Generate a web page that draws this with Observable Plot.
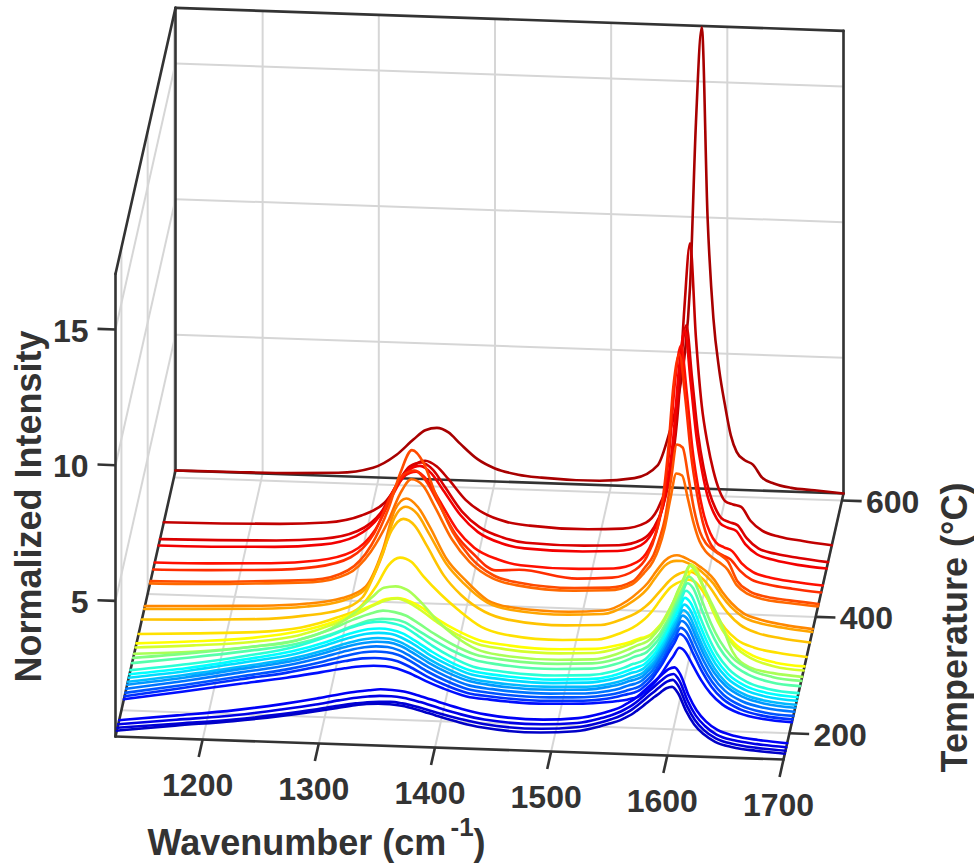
<!DOCTYPE html>
<html><head><meta charset="utf-8">
<style>html,body{margin:0;background:#fff}svg{display:block}</style>
<script src="https://cdn.jsdelivr.net/npm/d3@7"></script>
<script src="https://cdn.jsdelivr.net/npm/@observablehq/plot@0.6"></script>
</head><body><div id="chart"></div>
<script>
const wavenumbers=[1125,1175,1225,1265,1295,1315,1330,1340,1350,1360,1370,1385,1400,1420,1440,1490,1520,1540,1550,1558,1563,1568,1573,1578,1583,1588,1593,1598,1603,1608,1615,1622,1630,1640,1655,1675,1700];
const wnTicks=[1200,1300,1400,1500,1600,1700];
const tempTicks=[200,400,600];
const zTicks=[5,10,15];
const wnLimits=[1125,1700], tempLimits=[155,612], zTop=17.05;
const temperatures=[612,523,494,483,454,442,422,418,379,374,356,331,315,308,297,290,281,269,262,256,249,244,237,230,224,219,183,176,170,165];
const t612=[0,.02,.05,.12,.35,.85,1.45,1.8,1.9,1.75,1.35,.8,.48,.28,.2,.16,.3,.8,2,3.4,4.8,7.5,13.5,17,10,6.3,4.4,3.1,2,1.4,1.1,.95,.48,.28,.14,.08,0];
const t523=[0,.03,.09,.2,.5,1,1.9,2.4,2.6,2.4,1.95,1.2,.75,.45,.34,.28,.35,.6,1.1,2,3,5,8.5,10.95,7.5,5,3.6,2.6,1.9,1.5,1.38,1.3,.8,.45,.25,.12,0];
const t494=[0,.04,.1,.22,.55,1.25,2.4,3,3.16,2.9,2.3,1.4,.85,.5,.33,.3,.36,.6,1.05,1.85,2.8,4.4,7,8.55,6.6,4.6,3.3,2.4,1.85,1.5,1.35,1.25,.78,.42,.24,.12,0];
const t483=[0,.03,.1,.24,.6,1.35,2.5,3.1,3.27,3,2.4,1.5,.9,.52,.36,.32,.38,.62,1.1,1.9,2.9,4.6,7.2,8.6,6.7,4.7,3.4,2.45,1.9,1.55,1.38,1.28,.8,.44,.25,.1,0];
const t454=[0,.04,.12,.28,.65,1.5,2.8,3.5,3.68,3.35,2.65,1.6,.95,.55,.36,.3,.36,.62,1.1,1.95,3,4.8,7.4,8.66,6.9,4.8,3.4,2.4,1.8,1.45,1.28,1.15,.72,.4,.22,.1,0];
const t442=[0,.05,.13,.3,.7,1.6,3.05,3.8,3.98,3.6,2.85,1.7,1,.4,.45,.2,.28,.6,1.1,2,3.05,4.9,7.5,8.6,7,4.9,3.5,2.45,1.8,1.45,1.25,1.1,.7,.38,.22,.1,0];
const t422=[0,.05,.15,.25,.65,1.6,3,4.3,5.16,4.7,3.6,2.2,1.3,.65,.42,.28,.34,.6,1.1,1.6,2.2,3,4.4,5.7,5.6,4.5,3.3,2.5,2.1,1.9,1.7,1.45,.75,.4,.2,.1,0];
const t418=[0,.05,.15,.25,.6,1.45,2.6,3.6,4.17,3.95,3.2,2,1.2,.62,.4,.27,.33,.58,1,1.45,1.95,2.7,3.8,4.72,4.65,3.8,2.9,2.25,1.9,1.7,1.5,1.25,.68,.36,.18,.09,0];
const t379=[0,.08,.16,.3,.55,1,2.4,3.85,4.3,4,3.3,2.1,1.4,.65,.42,.33,.42,.8,1.15,1.5,1.8,2.1,2.35,2.5,2.55,2.5,2.4,2.3,2.15,2,1.7,1.25,.85,.5,.28,.12,0];
const t374=[0,.08,.16,.3,.55,1,2.3,3.65,4.1,3.85,3.15,2.05,1.35,.68,.44,.33,.4,.75,1.05,1.38,1.68,1.98,2.25,2.4,2.45,2.45,2.38,2.28,2.14,1.96,1.66,1.22,.82,.48,.26,.12,0];
const t356=[0,.07,.16,.35,.6,1.1,2.5,3.6,4.04,3.8,3.1,2,1.3,.72,.46,.32,.38,.65,.85,1.1,1.3,1.55,1.8,2.05,2.25,2.38,2.45,2.45,2.35,2.2,1.85,1.4,.95,.56,.28,.12,0];
const t331=[0,.1,.22,.45,.85,1.25,2.1,2.85,3.15,3,2.5,1.85,1.3,.7,.45,.32,.38,.65,.85,1.1,1.3,1.55,1.85,2.15,2.4,2.55,2.65,2.7,2.65,2.45,2,1.45,.95,.55,.28,.12,0];
const t315=[0,.15,.35,.65,1.05,1.45,1.75,1.95,2,1.9,1.7,1.25,.9,.55,.42,.32,.38,.55,.68,.82,.88,.99,1.19,1.43,1.77,2.14,2.58,2.99,3.4,3.23,2.55,1.87,1.26,.75,.34,.1,0];
const t308=[0,.15,.35,.65,1.1,1.5,1.85,2.05,2.14,2,1.75,1.3,.92,.55,.42,.32,.38,.58,.74,.9,.98,1.09,1.32,1.58,1.96,2.37,2.86,3.31,3.76,3.57,2.82,2.07,1.39,.83,.38,.11,0];
const t297=[0,.15,.4,.7,1.2,1.8,2.4,2.75,2.82,2.7,2.35,1.65,1.1,.6,.42,.32,.38,.6,.78,.95,1.03,1.15,1.39,1.66,2.06,2.49,3.01,3.48,3.96,3.76,3.2,2.6,1.9,.85,.28,.1,0];
const t290=[0,.25,.55,.85,1.3,1.7,1.95,2.06,2.02,1.9,1.65,1.25,.9,.55,.42,.32,.38,.56,.72,.89,.96,1.07,1.3,1.55,1.92,2.33,2.81,3.26,3.7,3.52,2.78,2.04,1.37,.81,.37,.11,0];
const t281=[0,.28,.6,.9,1.3,1.65,1.88,1.95,1.95,1.85,1.6,1.22,.88,.55,.42,.32,.38,.56,.72,.88,.95,1.06,1.28,1.53,1.9,2.3,2.77,3.21,3.65,3.47,2.74,2.01,1.35,.8,.37,.11,0];
const t269=[0,.3,.68,1.05,1.5,1.85,2.05,2.1,2.06,1.95,1.7,1.28,.92,.56,.44,.34,.4,.56,.72,.87,.94,1.05,1.27,1.52,1.89,2.29,2.76,3.19,3.63,3.45,2.72,2,1.34,.8,.36,.11,0];
const t262=[0,.3,.7,1.05,1.45,1.78,1.96,2,1.97,1.85,1.62,1.22,.88,.55,.44,.34,.4,.55,.7,.84,.92,1.02,1.23,1.48,1.83,2.22,2.68,3.1,3.52,3.34,2.64,1.94,1.3,.77,.35,.11,0];
const t256=[0,.32,.72,1.05,1.45,1.75,1.92,1.97,1.95,1.82,1.6,1.2,.88,.55,.44,.34,.4,.55,.68,.82,.88,.99,1.19,1.43,1.77,2.14,2.58,2.99,3.4,3.23,2.55,1.87,1.26,.75,.34,.1,0];
const t249=[0,.33,.72,1.05,1.42,1.72,1.88,1.93,1.92,1.8,1.58,1.2,.88,.56,.44,.35,.4,.54,.66,.8,.87,.97,1.17,1.4,1.74,2.1,2.54,2.94,3.34,3.17,2.5,1.84,1.24,.73,.33,.1,0];
const t244=[0,.34,.74,1.06,1.42,1.7,1.85,1.9,1.89,1.78,1.56,1.18,.87,.56,.44,.35,.4,.54,.65,.78,.85,.94,1.14,1.37,1.69,2.05,2.47,2.86,3.25,3.09,2.44,1.79,1.2,.72,.33,.1,0];
const t237=[0,.36,.76,1.08,1.42,1.68,1.83,1.88,1.87,1.76,1.55,1.18,.87,.56,.45,.36,.41,.53,.64,.77,.83,.93,1.12,1.34,1.66,2.02,2.43,2.82,3.2,3.04,2.4,1.76,1.18,.7,.32,.1,0];
const t230=[0,.36,.76,1.08,1.4,1.65,1.8,1.84,1.83,1.74,1.54,1.17,.87,.57,.46,.37,.42,.53,.63,.74,.81,.9,1.09,1.3,1.61,1.95,2.36,2.73,3.1,2.95,2.33,1.71,1.15,.68,.31,.09,0];
const t224=[0,.38,.78,1.08,1.38,1.58,1.7,1.73,1.72,1.64,1.46,1.12,.84,.56,.46,.37,.42,.52,.62,.72,.78,.87,1.05,1.26,1.56,1.89,2.28,2.64,3,2.85,2.25,1.65,1.11,.66,.3,.09,0];
const t219=[0,.35,.72,1,1.25,1.42,1.52,1.55,1.55,1.48,1.34,1.05,.8,.54,.45,.37,.42,.5,.56,.62,.68,.75,.91,1.09,1.35,1.64,1.98,2.29,2.6,2.47,1.95,1.43,.96,.57,.26,.08,0];
const t183=[0,.25,.52,.8,1.05,1.24,1.36,1.42,1.47,1.46,1.42,1.26,1.08,.85,.68,.56,.66,.86,1,1.15,1.28,1.42,1.6,1.8,2,2.2,2.4,2.58,2.65,2.4,1.65,1.1,.7,.4,.2,.08,0];
const t176=[0,.24,.48,.75,.98,1.16,1.28,1.34,1.38,1.38,1.34,1.2,1.02,.8,.64,.54,.63,.83,.97,1.12,1.24,1.38,1.55,1.74,1.94,2.13,2.32,2.49,2.56,2.32,1.6,1.06,.68,.38,.19,.08,0];
const t170=[0,.22,.45,.7,.92,1.09,1.2,1.26,1.29,1.3,1.26,1.13,.96,.76,.6,.5,.6,.8,.94,1.08,1.2,1.33,1.5,1.68,1.87,2.05,2.24,2.4,2.47,2.24,1.54,1.02,.65,.37,.18,.07,0];
const t165=[0,.26,.5,.74,.96,1.12,1.24,1.3,1.33,1.32,1.28,1.14,.96,.74,.58,.47,.56,.76,.9,1.02,1.13,1.25,1.41,1.58,1.76,1.93,2.1,2.26,2.32,2.1,1.45,.96,.62,.35,.17,.07,0];
const spectra=[t612,t523,t494,t483,t454,t442,t422,t418,t379,t374,t356,t331,t315,t308,t297,t290,t281,t269,t262,t256,t249,t244,t237,t230,t224,t219,t183,t176,t170,t165];
const jetStops=["#0000c8","#0000ff","#00ffff","#ffff00","#ff0000","#a80000"];
const jetRanks=[0,3.6,11,17,25.5,29];

// oblique projection of (wavenumber, temperature, intensity) onto the two plot scales
const ox=(w,T)=>w+0.11302*(T-tempLimits[0]);
const oy=(w,T,z)=>z+0.021455*(T-tempLimits[0])-0.0014744*(w-wnLimits[0]);
const seg=(a,b)=>({x1:ox(a[0],a[1]),y1:oy(a[0],a[1],a[2]),x2:ox(b[0],b[1]),y2:oy(b[0],b[1],b[2])});
const [w0,w1]=wnLimits,[T0,T1]=tempLimits;

const grid=[
  ...wnTicks.flatMap(w=>[seg([w,T0,0],[w,T1,0]),seg([w,T1,0],[w,T1,zTop])]),
  ...tempTicks.flatMap(T=>[seg([w0,T,0],[w1,T,0]),seg([w0,T,0],[w0,T,zTop])]),
  ...zTicks.flatMap(z=>[seg([w0,T1,z],[w1,T1,z]),seg([w0,T0,z],[w0,T1,z])])
];
const box=[
  seg([w0,T0,0],[w1,T0,0]),seg([w1,T0,0],[w1,T1,0]),seg([w0,T1,0],[w1,T1,0]),seg([w0,T0,0],[w0,T1,0]),
  seg([w0,T0,0],[w0,T0,zTop]),seg([w0,T1,0],[w0,T1,zTop]),seg([w1,T1,0],[w1,T1,zTop]),
  seg([w0,T1,zTop],[w1,T1,zTop]),seg([w0,T0,zTop],[w0,T1,zTop])
];
const ticks=[
  ...wnTicks.map(w=>seg([w,T0,0],[w,125,0])),
  ...tempTicks.map(T=>seg([w1,T,0],[1717,T,0])),
  ...zTicks.map(z=>seg([w0,T0,z],[1109.5,T0,z]))
];
const rows=spectra.flatMap((s,i)=>s.map((z,j)=>({T:temperatures[i],rank:spectra.length-1-i,
  x:ox(wavenumbers[j],temperatures[i]),y:oy(wavenumbers[j],temperatures[i],z)})));
const font="Liberation Sans";
const lab={fontFamily:font,fontWeight:"bold",fill:"#333",fontSize:32};
const title={...lab,fontSize:36,frameAnchor:"top-left",lineAnchor:"middle"};
const linkOpts={x1:"x1",y1:"y1",x2:"x2",y2:"y2"};
const plot=Plot.plot({
  width:974,height:865,margin:0,
  x:{domain:wnLimits,range:[115,783],axis:null},
  y:{domain:[0,zTop],range:[736,273.4],axis:null},
  color:{type:"linear",domain:jetRanks,range:jetStops},
  marks:[
    Plot.link(grid,{...linkOpts,stroke:"#d6d6d6",strokeWidth:2}),
    Plot.link(box,{...linkOpts,stroke:"#333",strokeWidth:2.6,strokeLinecap:"round"}),
    Plot.link(ticks,{...linkOpts,stroke:"#333",strokeWidth:2.6}),
    Plot.line(rows,{x:"x",y:"y",z:"T",stroke:"rank",strokeWidth:2.6,curve:"monotone-x"}),
    Plot.text(wnTicks,{x:w=>ox(w,T0),y:w=>oy(w,T0,0),text:w=>String(w),dx:-5,dy:46,...lab}),
    Plot.text(tempTicks,{x:T=>ox(w1,T),y:T=>oy(w1,T,0),text:T=>String(T),dx:24,textAnchor:"start",dy:2,...lab}),
    Plot.text(zTicks,{x:z=>ox(w0,T0),y:z=>oy(w0,T0,z),text:z=>String(z),dx:-27,textAnchor:"end",dy:2,...lab}),
    Plot.text(["Normalized Intensity"],{...title,dx:29,dy:506,rotate:-90,textAnchor:"middle"}),
    Plot.text(["Temperature (°C)"],{...title,dx:955,dy:627,rotate:-90,textAnchor:"middle"}),
    Plot.text(["Wavenumber (cm"],{...title,dx:147,dy:843,textAnchor:"start"}),
    Plot.text(["-1"],{...title,dx:450,dy:827,textAnchor:"start",fontSize:26}),
    Plot.text([")"],{...title,dx:473,dy:843,textAnchor:"start"})
  ]
});
document.getElementById("chart").append(plot);
</script></body></html>
